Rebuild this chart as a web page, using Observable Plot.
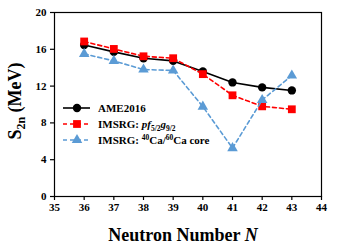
<!DOCTYPE html>
<html><head><meta charset="utf-8">
<script src="https://cdn.jsdelivr.net/npm/d3@7"></script>
<script src="https://cdn.jsdelivr.net/npm/@observablehq/plot@0.6"></script>
<style>
body{margin:0;background:#fff;}
#chart svg{font-family:"Liberation Serif","Times New Roman",serif;}
</style>
</head><body><div id="chart"></div>
<script>
const neutrons = [36, 37, 38, 39, 40, 41, 42, 43];
const ame2016 = [16.47, 15.72, 15.03, 14.74, 13.59, 12.40, 11.86, 11.53];
const imsrgPf = [16.85, 16.04, 15.24, 15.03, 13.30, 11.00, 9.80, 9.48];
const imsrgCore = [15.50, 14.74, 13.80, 13.70, 9.77, 5.26, 10.49, 13.15];
const xTicks = [35, 36, 37, 38, 39, 40, 41, 42, 43, 44];
const yTicks = [0, 4, 8, 12, 16, 20];

const seriesDefs = [
  {key: "AME2016", values: ame2016, color: "#000000", symbol: "circle", r: 4.2, dash: null},
  {key: "pf", values: imsrgPf, color: "#ff0000", symbol: "square", r: 4.4, dash: "4,3"},
  {key: "core", values: imsrgCore, color: "#5b9bd5", symbol: "triangle", r: 3.9, dash: "4,3"}
];
const rows = seriesDefs.flatMap(s => neutrons.map((n, i) => ({series: s.key, N: n, S: s.values[i]})));

const marks = [
  Plot.frame({stroke: "#000", strokeWidth: 1.2})
];
for (const s of seriesDefs) {
  const d = rows.filter(r => r.series === s.key);
  marks.push(Plot.line(d, {x: "N", y: "S", stroke: s.color, strokeWidth: 1.6, strokeDasharray: s.dash}));
  marks.push(Plot.dot(d, {x: "N", y: "S", fill: s.color, stroke: "none", symbol: s.symbol, r: s.r}));
}
marks.push(Plot.axisX({ticks: xTicks, tickSize: 4, tickPadding: 3, tickFormat: d => d, label: null, fontWeight: "bold", fontSize: 11}));
marks.push(Plot.axisY({ticks: yTicks, tickSize: 4, tickPadding: 4, tickFormat: d => d, label: null, fontWeight: "bold", fontSize: 11}));

const chart = Plot.plot({
  width: 350, height: 246,
  marginLeft: 54, marginRight: 29, marginTop: 12, marginBottom: 50,
  x: {domain: [35, 44]},
  y: {domain: [0, 20]},
  style: {fontFamily: "'Liberation Serif','Times New Roman',serif", color: "#000", background: "#fff"},
  marks
});
document.getElementById("chart").append(chart);

const svg = d3.select(chart);
svg.selectAll("[aria-label='x-axis tick'] path, [aria-label='y-axis tick'] path").attr("stroke-width", 1.2);

// Axis titles
const xt = svg.append("text").attr("x", 183).attr("y", 241).attr("text-anchor", "middle")
  .attr("font-size", 18).attr("font-weight", "bold").attr("fill", "#000");
xt.append("tspan").text("Neutron Number ");
xt.append("tspan").attr("font-style", "italic").text("N");

const yt = svg.append("text").attr("transform", "translate(21,101) rotate(-90)").attr("text-anchor", "middle")
  .attr("font-size", 18).attr("font-weight", "bold").attr("fill", "#000");
yt.append("tspan").text("S");
yt.append("tspan").attr("font-size", 12).attr("dy", 4).text("2n");
yt.append("tspan").attr("dy", -4).text(" (MeV)");

// Legend
const lg = svg.append("g").attr("font-size", 11).attr("font-weight", "bold").attr("fill", "#000").attr("text-anchor", "start");
const legendRows = [108, 124, 140];
const sym = {circle: d3.symbolCircle, square: d3.symbolSquare, triangle: d3.symbolTriangle};
seriesDefs.forEach((s, i) => {
  const y = legendRows[i];
  lg.append("line").attr("x1", 63).attr("x2", 90).attr("y1", y).attr("y2", y)
    .attr("stroke", s.color).attr("stroke-width", 1.6).attr("stroke-dasharray", s.dash);
  lg.append("path").attr("d", d3.symbol(sym[s.symbol], Math.PI * s.r * s.r)()).attr("transform", `translate(77,${y})`).attr("fill", s.color);
});
const t1 = lg.append("text").attr("x", 98).attr("y", 112);
t1.text("AME2016");
const t2 = lg.append("text").attr("x", 98).attr("y", 128);
t2.append("tspan").text("IMSRG: ");
t2.append("tspan").attr("font-style", "italic").text("pf");
t2.append("tspan").attr("font-size", 7.5).attr("dy", 2.5).text("5/2");
t2.append("tspan").attr("dy", -2.5).attr("font-style", "italic").text("g");
t2.append("tspan").attr("font-size", 7.5).attr("dy", 2.5).text("9/2");
const t3 = lg.append("text").attr("x", 98).attr("y", 144);
t3.append("tspan").text("IMSRG: ");
t3.append("tspan").attr("font-size", 7.5).attr("dy", -4).text("40");
t3.append("tspan").attr("dy", 4).text("Ca/");
t3.append("tspan").attr("font-size", 7.5).attr("dy", -4).text("60");
t3.append("tspan").attr("dy", 4).text("Ca core");
</script>
</body></html>
